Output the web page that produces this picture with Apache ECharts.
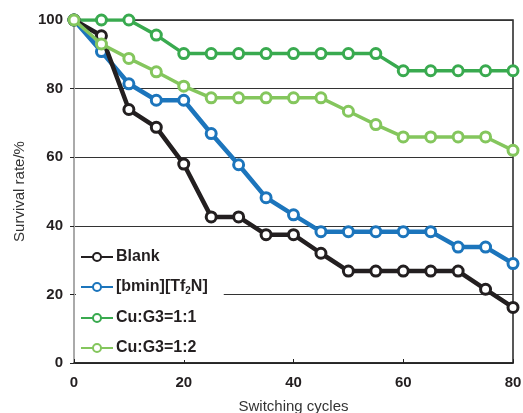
<!DOCTYPE html>
<html>
<head>
<meta charset="utf-8">
<title>Survival rate</title>
<script src="https://cdn.jsdelivr.net/npm/echarts@6/dist/echarts.min.js"></script>
</head>
<body style="margin:0;background:#fff;">
<div id="main" style="width:523px;height:413px;"></div>
<script>
    var cycles = [0, 5, 10, 15, 20, 25, 30, 35, 40, 45, 50, 55, 60, 65, 70, 75, 80];
    var blank = [100, 95.4, 73.9, 68.7, 58, 42.6, 42.6, 37.4, 37.4, 32, 26.8, 26.8, 26.8, 26.8, 26.8, 21.5, 16.2];
    var bmin = [100, 90.8, 81.4, 76.6, 76.6, 66.9, 57.8, 48.2, 43.2, 38.3, 38.3, 38.3, 38.3, 38.3, 33.8, 33.8, 29];
    var cu11 = [100, 100, 100, 95.6, 90.2, 90.2, 90.2, 90.2, 90.2, 90.2, 90.2, 90.2, 85.2, 85.2, 85.2, 85.2, 85.2];
    var cu12 = [100, 93, 88.8, 84.9, 80.7, 77.3, 77.3, 77.3, 77.3, 77.3, 73.4, 69.5, 65.9, 65.9, 65.9, 65.9, 62];
    var seriesNames = ['Blank', '[bmin][Tf2N]', 'Cu:G3=1:1', 'Cu:G3=1:2'];
    var seriesColors = ['#231f20', '#1c75bc', '#39aa4f', '#84c65d'];
    var seriesData = [blank, bmin, cu11, cu12];

    function pairs(vals) {
        return vals.map(function (v, i) { return [cycles[i], v]; });
    }

    var series = seriesData.map(function (vals, i) {
        return {
            name: seriesNames[i],
            type: 'line',
            data: pairs(vals),
            symbol: 'circle',
            symbolSize: 10,
            z: 10 - i,
            lineStyle: { color: seriesColors[i], width: i < 2 ? 4.5 : 3.5 },
            itemStyle: { color: '#fff', borderColor: seriesColors[i], borderWidth: 3 }
        };
    });
    // light green sits on top at the start point
    series[3].z = 11;

    var myChart = echarts.init(document.getElementById('main'));
    myChart.setOption({
        animation: false,
        grid: {
            left: 74, right: 10, top: 20, bottom: 50,
            outerBoundsMode: 'none',
            show: true, borderColor: '#222', borderWidth: 1.5
        },
        legend: {
            orient: 'vertical',
            left: 76,
            top: 243,
            itemWidth: 32,
            itemHeight: 10,
            itemGap: 14,
            padding: [6, 16, 4, 4],
            backgroundColor: '#fff',
            data: seriesNames,
            formatter: function (name) {
                if (name === '[bmin][Tf2N]') return '[bmin][Tf{sub|2}N]';
                return name;
            },
            textStyle: {
                fontFamily: 'Liberation Sans, Arial',
                fontSize: 16,
                fontWeight: 'bold',
                color: '#231f20',
                padding: [0, 0, 0, -2],
                rich: {
                    sub: { fontSize: 10, fontWeight: 'bold', color: '#231f20', verticalAlign: 'bottom', padding: [8, 0, 0, 0] }
                }
            }
        },
        xAxis: {
            type: 'value',
            min: 0, max: 80, interval: 20,
            name: 'Switching cycles',
            nameLocation: 'middle',
            nameGap: 36,
            nameTextStyle: { fontFamily: 'Liberation Sans, Arial', fontSize: 15, color: '#333' },
            axisLine: { lineStyle: { color: '#222', width: 1.5 } },
            axisTick: { inside: true, length: 4, lineStyle: { color: '#222' } },
            axisLabel: { margin: 12, fontFamily: 'Liberation Sans, Arial', fontSize: 15, fontWeight: 'bold', color: '#231f20' },
            splitLine: { show: false }
        },
        yAxis: {
            type: 'value',
            min: 0, max: 100, interval: 20,
            name: 'Survival rate/%',
            nameLocation: 'middle',
            nameGap: 42,
            nameTextStyle: { fontFamily: 'Liberation Sans, Arial', fontSize: 15, color: '#333' },
            axisLine: { show: true, lineStyle: { color: '#aaa', width: 2 } },
            axisTick: { show: true, length: 4, lineStyle: { color: '#222' } },
            axisLabel: { margin: 11, fontFamily: 'Liberation Sans, Arial', fontSize: 15, fontWeight: 'bold', color: '#231f20' },
            splitLine: { lineStyle: { color: '#333', width: 1.2 } }
        },
        series: series
    });
</script>
</body>
</html>
